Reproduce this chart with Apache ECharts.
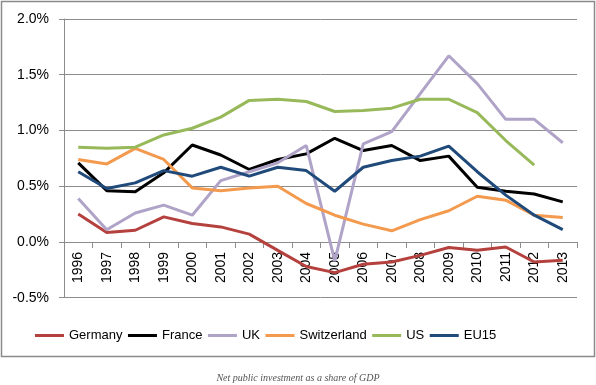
<!DOCTYPE html>
<html>
<head>
<meta charset="utf-8">
<script src="https://cdn.jsdelivr.net/npm/echarts@6/dist/echarts.min.js"></script>
<style>
html,body{margin:0;padding:0;background:#fff;}
#chart{width:596px;height:385px;}
</style>
</head>
<body>
<div id="chart"></div>
<script>
const years = ['1996','1997','1998','1999','2000','2001','2002','2003','2004','2005','2006','2007','2008','2009','2010','2011','2012','2013'];
const germany = [0.25,0.085,0.105,0.225,0.165,0.135,0.07,-0.075,-0.22,-0.275,-0.20,-0.18,-0.12,-0.05,-0.075,-0.045,-0.18,-0.165];
const france = [0.71,0.46,0.45,0.62,0.87,0.78,0.65,0.74,0.79,0.93,0.82,0.865,0.73,0.77,0.49,0.455,0.43,0.36];
const uk = [0.39,0.11,0.26,0.33,0.24,0.55,0.63,0.71,0.865,-0.17,0.88,0.99,1.33,1.67,1.42,1.10,1.10,0.89];
const switzerland = [0.74,0.70,0.84,0.74,0.485,0.46,0.485,0.50,0.345,0.24,0.16,0.10,0.20,0.28,0.41,0.375,0.24,0.22];
const us = [0.85,0.84,0.85,0.96,1.02,1.12,1.27,1.28,1.26,1.17,1.18,1.20,1.28,1.28,1.16,0.91,0.69,null];
const eu15 = [0.63,0.48,0.53,0.64,0.59,0.67,0.59,0.67,0.64,0.455,0.67,0.73,0.77,0.86,0.63,0.42,0.24,0.11];
const yMin = -0.5, yMax = 2.0, yStep = 0.5;

const names = ['Germany','France','UK','Switzerland','US','EU15'];
const colors = ['#b5413e','#000000','#b0a3c8','#f39a4e','#98b95a','#1f4a7a'];
const datas = [germany,france,uk,switzerland,us,eu15];

const gridTop = 19, gridBottom = 87.3, H = 385;
const plotH = H - gridTop - gridBottom;
const zeroOffset = -plotH * (0 - yMin) / (yMax - yMin);

const chart = echarts.init(document.getElementById('chart'));
chart.setOption({
  animation:false,
  textStyle:{fontFamily:'Liberation Sans'},
  title:{
    text:'Net public investment as a share of GDP',
    left:'center', top:368,
    textStyle:{fontFamily:'Liberation Serif',fontStyle:'italic',fontWeight:'normal',fontSize:10,color:'#555'}
  },
  graphic:[{type:'rect',shape:{x:1.5,y:1.5,width:593,height:355},style:{fill:'none',stroke:'#8a8a8a',lineWidth:1.5},silent:true}],
  legend:{
    left:30, top:324, itemWidth:29, itemHeight:3, itemGap:5.5, icon:'rect',
    textStyle:{fontSize:13,color:'#000',fontFamily:'Liberation Sans'},
    data:names
  },
  grid:{left:64,right:19,top:gridTop,bottom:gridBottom,containLabel:false},
  xAxis:{
    type:'category', data:years, boundaryGap:true, offset:zeroOffset,
    axisLine:{onZero:false,lineStyle:{color:'#8c8c8c',width:1}},
    axisTick:{show:true,length:6,alignWithLabel:false,lineStyle:{color:'#8c8c8c'}},
    axisLabel:{rotate:90,margin:10,fontSize:14,color:'#000',interval:0}
  },
  yAxis:{
    type:'value', min:yMin, max:yMax, interval:yStep,
    axisLine:{show:true,lineStyle:{color:'#8c8c8c',width:1}},
    axisTick:{show:true,length:5,lineStyle:{color:'#8c8c8c'}},
    splitLine:{show:true,lineStyle:{color:'#8c8c8c',width:1}},
    axisLabel:{fontSize:14,color:'#000',margin:15,formatter:v=>v.toFixed(1)+'%'}
  },
  series:names.map((n,i)=>({
    name:n,type:'line',data:datas[i],showSymbol:false,symbol:'none',
    lineStyle:{width:3,color:colors[i]},itemStyle:{color:colors[i]},
    connectNulls:false
  }))
});
</script>
</body>
</html>
